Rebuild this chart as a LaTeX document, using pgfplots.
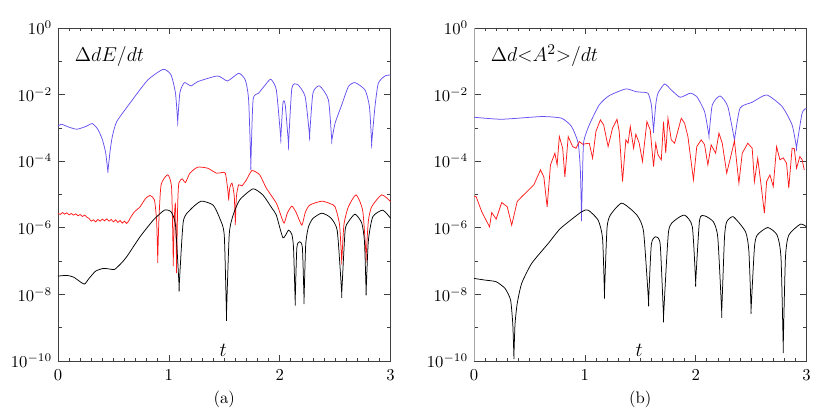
\documentclass[border=0pt]{standalone}
\usepackage{pgfplots}
\pgfplotsset{compat=1.18}
\definecolor{lineblue}{RGB}{100,80,240}
\definecolor{linered}{RGB}{255,25,25}
\pgfplotsset{
  panel/.style={
    scale only axis, width=199.5pt, height=199.8pt,
    xmin=0, xmax=3, ymin=1e-10, ymax=1,
    xtick={0,1,2,3}, minor x tick num=9,
    ytick={1e-10,1e-8,1e-6,1e-4,1e-2,1},
    minor ytick={1e-9,1e-7,1e-5,1e-3,1e-1},
    tick align=inside,
    major tick length=3.9pt, minor tick length=2.1pt,
    every tick/.style={black!75, line width=0.4pt},
    axis line style={black!75, line width=0.5pt},
    xticklabel style={yshift=-2pt},
  },
  curve/.style={line width=0.45pt},
  % sharp dips are listed twice so the smooth curve keeps its cusp there
  soft/.style={line width=0.45pt, smooth, tension=0.35},
}
\begin{document}
\begin{tikzpicture}
\useasboundingbox (0,0) rectangle (498pt,249pt);

% ---- panel (a)
\begin{axis}[ymode=log, panel, name=left, at={(34.8pt,32.4pt)}, anchor=south west]
\addplot[soft, lineblue] coordinates {
(0.00,1.12e-3) (0.03,1.29e-3) (0.10,1.05e-3) (0.17,9.12e-4) (0.25,1.10e-3)
(0.31,1.35e-3) (0.36,9.00e-4) (0.40,4.50e-4) (0.43,1.80e-4) (0.45,4.90e-5) (0.45,4.90e-5)
(0.47,2.00e-4) (0.49,5.50e-4) (0.53,1.55e-3) (0.66,6.17e-3) (0.81,2.75e-2)
(0.95,5.75e-2) (1.02,3.89e-2) (1.06,1.10e-2) (1.08,1.55e-3) (1.08,1.55e-3) (1.10,1.15e-2)
(1.14,2.29e-2) (1.20,1.82e-2) (1.26,2.45e-2) (1.44,3.63e-2) (1.53,2.57e-2)
(1.63,4.37e-2) (1.69,2.75e-2) (1.72,6.92e-3) (1.74,7.59e-5) (1.74,7.59e-5) (1.76,6.92e-3)
(1.81,1.10e-2) (1.87,1.95e-2) (1.92,2.88e-2) (1.97,1.38e-2) (2.01,4.90e-4) (2.01,4.90e-4)
(2.03,5.75e-3) (2.05,5.01e-3) (2.08,3.24e-4) (2.08,3.24e-4) (2.11,1.55e-2) (2.16,2.04e-2)
(2.23,8.71e-3) (2.27,5.75e-4) (2.27,5.75e-4) (2.30,1.10e-2) (2.36,1.82e-2) (2.44,6.92e-3)
(2.47,4.17e-4) (2.47,4.17e-4) (2.50,1.38e-3) (2.56,4.90e-3) (2.62,1.74e-2) (2.68,2.29e-2)
(2.77,1.38e-2) (2.81,4.37e-3) (2.83,3.47e-4) (2.83,3.47e-4) (2.86,4.37e-3) (2.89,2.19e-2)
(2.95,3.63e-2) (3.00,3.89e-2)
};
\addplot[soft, linered] coordinates {
(0.00,2.75e-6) (0.02,2.51e-6) (0.04,2.88e-6) (0.06,2.57e-6) (0.08,2.82e-6)
(0.10,2.45e-6) (0.12,2.69e-6) (0.14,2.40e-6) (0.16,2.63e-6) (0.18,2.29e-6)
(0.20,2.51e-6) (0.22,2.19e-6) (0.24,2.40e-6) (0.26,2.09e-6) (0.28,1.91e-6)
(0.30,1.58e-6) (0.32,1.74e-6) (0.34,1.51e-6) (0.36,1.78e-6) (0.38,1.58e-6)
(0.40,1.82e-6) (0.42,1.62e-6) (0.44,1.86e-6) (0.46,1.58e-6) (0.48,1.78e-6)
(0.50,1.51e-6) (0.52,1.74e-6) (0.54,1.45e-6) (0.56,1.66e-6) (0.58,1.38e-6)
(0.60,1.58e-6) (0.62,1.35e-6) (0.64,1.66e-6) (0.66,2.19e-6) (0.69,3.02e-6)
(0.74,4.27e-6) (0.79,7.59e-6) (0.83,9.33e-6) (0.87,6.92e-6) (0.89,1.58e-6)
(0.90,1.07e-7) (0.90,1.07e-7) (0.91,1.58e-6) (0.93,1.95e-5) (0.99,3.89e-5) (1.025,1.55e-5)
(1.04,9.55e-8) (1.04,9.55e-8) (1.05,2.00e-6) (1.06,5.01e-6) (1.07,6.03e-8) (1.07,6.03e-8) (1.08,5.01e-6)
(1.09,2.19e-5) (1.12,2.95e-5) (1.15,2.29e-5) (1.19,4.37e-5) (1.26,6.61e-5)
(1.35,6.17e-5) (1.43,4.37e-5) (1.48,4.57e-5) (1.51,4.37e-5) (1.53,1.58e-5)
(1.54,6.92e-6) (1.54,6.92e-6) (1.55,1.58e-5) (1.57,2.19e-5) (1.59,9.00e-6) (1.60,1.38e-6) (1.60,1.38e-6)
(1.61,9.00e-6) (1.63,1.95e-5) (1.66,1.82e-5) (1.70,2.75e-5) (1.75,5.25e-5)
(1.82,3.89e-5) (1.88,1.55e-5) (1.97,5.50e-6) (2.01,2.40e-6) (2.04,1.38e-6)
(2.07,2.82e-6) (2.11,4.47e-6) (2.15,2.82e-6) (2.20,1.20e-6) (2.23,2.82e-6)
(2.27,4.79e-6) (2.38,6.31e-6) (2.46,5.25e-6) (2.50,4.27e-6) (2.54,1.26e-6)
(2.56,9.55e-8) (2.56,9.55e-8) (2.58,1.26e-6) (2.62,4.27e-6) (2.69,9.77e-6) (2.75,3.16e-6)
(2.78,1.35e-7) (2.78,1.35e-7) (2.80,1.58e-6) (2.83,4.27e-6) (2.92,9.77e-6) (3.00,6.17e-6)
};
\addplot[soft, black] coordinates {
(0.00,3.55e-8) (0.08,3.72e-8) (0.14,3.31e-8) (0.20,2.40e-8) (0.24,2.04e-8)
(0.28,3.02e-8) (0.34,5.01e-8) (0.41,6.03e-8) (0.47,5.75e-8) (0.51,5.62e-8)
(0.56,7.94e-8) (0.62,1.35e-7) (0.74,5.37e-7) (0.86,1.70e-6) (0.96,3.39e-6)
(1.02,3.02e-6) (1.06,1.20e-6) (1.093,1.70e-8) (1.093,1.70e-8) (1.13,1.51e-6) (1.19,3.39e-6)
(1.29,6.31e-6) (1.40,4.79e-6) (1.46,1.91e-6) (1.50,6.03e-7) (1.52,2.40e-9) (1.52,2.40e-9)
(1.545,6.31e-7) (1.58,2.40e-6) (1.64,6.92e-6) (1.76,1.48e-5) (1.85,9.55e-6)
(1.93,3.89e-6) (1.97,2.40e-6) (2.03,5.01e-7) (2.08,8.51e-7) (2.11,6.31e-7)
(2.125,2.51e-7) (2.14,6.03e-9) (2.14,6.03e-9) (2.155,2.51e-7) (2.18,3.80e-7) (2.205,2.51e-7)
(2.22,6.76e-9) (2.22,6.76e-9) (2.235,3.16e-7) (2.26,1.07e-6) (2.30,1.91e-6) (2.38,2.75e-6)
(2.46,2.00e-6) (2.52,7.94e-7) (2.56,1.07e-8) (2.56,1.07e-8) (2.59,7.94e-7) (2.62,1.51e-6)
(2.68,2.57e-6) (2.74,1.41e-6) (2.765,3.98e-7) (2.78,1.20e-8) (2.78,1.20e-8) (2.80,3.98e-7)
(2.84,2.14e-6) (2.93,3.39e-6) (3.00,1.95e-6)
};
\node[anchor=base west, font=\fontsize{12.5}{15}\selectfont] at (rel axis cs:0.033,0.898) {$\Delta dE/dt$};
\node[anchor=base, font=\large] at (rel axis cs:0.497,0.015) {$t$};
\end{axis}
\node[yshift=-22.8pt] at (left.south) {(a)};

% ---- panel (b)
\begin{axis}[ymode=log, panel, name=right, at={(284.4pt,32.4pt)}, anchor=south west]
\draw[black!35, line width=1.1pt] (rel axis cs:0,0) -- (rel axis cs:0,1);
\addplot[soft, lineblue] coordinates {
(0.00,2.09e-3) (0.25,1.82e-3) (0.61,2.19e-3) (0.79,1.95e-3) (0.88,1.10e-3)
(0.94,3.47e-4) (0.96,5.01e-5) (0.97,2.00e-6) (0.97,2.00e-6) (0.98,5.01e-5) (0.99,3.89e-4)
(1.04,1.23e-3) (1.13,4.90e-3) (1.22,9.33e-3) (1.37,1.48e-2) (1.46,1.23e-2)
(1.52,1.17e-2) (1.57,1.10e-2) (1.60,5.01e-3) (1.62,8.13e-4) (1.62,8.13e-4) (1.64,5.01e-3)
(1.66,1.10e-2) (1.72,2.09e-2) (1.78,1.38e-2) (1.86,8.32e-3) (1.95,1.10e-2)
(2.01,8.71e-3) (2.08,3.09e-3) (2.12,5.89e-4) (2.12,5.89e-4) (2.15,4.90e-3) (2.22,9.12e-3)
(2.29,4.37e-3) (2.35,4.37e-4) (2.35,4.37e-4) (2.40,3.89e-3) (2.51,5.89e-3) (2.64,9.77e-3)
(2.78,4.37e-3) (2.87,1.23e-3) (2.91,2.57e-4) (2.91,2.57e-4) (2.96,2.75e-3) (3.00,3.89e-3)
};
\addplot[curve, linered] coordinates {
(0.00,8.91e-6) (0.02,8.51e-6) (0.07,3.02e-6) (0.14,1.07e-6) (0.16,2.88e-6)
(0.20,1.82e-6) (0.25,5.75e-6) (0.30,4.27e-6) (0.34,1.20e-6) (0.39,6.17e-6)
(0.43,8.51e-6) (0.54,1.95e-5) (0.60,5.50e-5) (0.63,3.39e-5) (0.66,4.27e-6)
(0.69,7.76e-5) (0.73,1.74e-4) (0.75,7.76e-5) (0.77,5.50e-4) (0.80,2.45e-4)
(0.82,3.39e-5) (0.85,5.50e-4) (0.89,2.75e-4) (0.92,2.45e-4) (0.95,3.89e-4)
(0.98,3.24e-4) (1.04,3.47e-4) (1.07,1.23e-4) (1.10,7.76e-4) (1.14,1.74e-3)
(1.17,1.23e-3) (1.21,2.75e-4) (1.25,9.77e-4) (1.29,1.82e-3) (1.31,7.94e-4)
(1.34,2.45e-5) (1.37,4.37e-4) (1.39,3.47e-4) (1.41,1.10e-3) (1.44,2.45e-4)
(1.46,6.46e-4) (1.49,3.55e-4) (1.52,9.77e-5) (1.56,1.55e-3) (1.59,8.71e-4)
(1.62,6.92e-5) (1.64,3.47e-4) (1.66,1.55e-4) (1.69,1.10e-4) (1.71,1.55e-3)
(1.73,1.74e-4) (1.75,1.95e-3) (1.78,4.37e-4) (1.81,3.47e-4) (1.87,1.95e-3)
(1.90,1.38e-3) (1.93,5.50e-4) (1.98,2.75e-5) (2.01,2.75e-4) (2.05,4.37e-4)
(2.08,3.16e-4) (2.11,7.76e-5) (2.14,3.09e-4) (2.18,1.74e-4) (2.21,6.92e-4)
(2.24,3.47e-4) (2.28,4.37e-5) (2.32,1.55e-4) (2.35,4.07e-4) (2.39,2.19e-5)
(2.42,1.74e-4) (2.47,3.47e-4) (2.51,2.45e-4) (2.53,2.45e-5) (2.56,1.23e-4)
(2.59,1.95e-5) (2.62,2.75e-6) (2.64,2.45e-5) (2.67,3.89e-5) (2.70,1.74e-5)
(2.73,2.75e-4) (2.76,1.10e-4) (2.79,1.26e-4) (2.82,8.71e-5) (2.84,1.55e-5)
(2.87,2.45e-4) (2.89,2.40e-4) (2.91,6.17e-5) (2.94,1.38e-4) (2.96,1.12e-4)
(2.98,5.50e-5)
};
\addplot[soft, black] coordinates {
(0.00,3.02e-8) (0.10,2.69e-8) (0.20,2.40e-8) (0.28,1.51e-8) (0.33,6.76e-9)
(0.35,1.26e-9) (0.36,1.35e-10) (0.36,1.35e-10) (0.37,1.26e-9) (0.39,5.37e-9) (0.43,2.14e-8)
(0.52,8.51e-8) (0.67,3.39e-7) (0.78,9.55e-7) (0.97,3.02e-6) (1.03,3.39e-6)
(1.12,1.70e-6) (1.16,4.79e-7) (1.177,1.02e-8) (1.177,1.02e-8) (1.20,9.55e-7) (1.23,2.40e-6)
(1.334,5.50e-6) (1.47,2.40e-6) (1.53,7.59e-7) (1.575,6.03e-9) (1.575,6.03e-9) (1.60,3.16e-7)
(1.64,5.37e-7) (1.68,3.16e-7) (1.71,2.14e-9) (1.71,2.14e-9) (1.755,7.59e-7) (1.815,1.70e-6)
(1.90,2.40e-6) (1.97,1.07e-6) (2.00,2.29e-8) (2.00,2.29e-8) (2.035,1.70e-6) (2.08,2.29e-6)
(2.16,1.51e-6) (2.20,5.01e-7) (2.235,2.88e-9) (2.235,2.88e-9) (2.26,5.01e-7) (2.28,1.51e-6)
(2.34,2.14e-6) (2.45,7.59e-7) (2.48,2.00e-7) (2.50,3.55e-9) (2.50,3.55e-9) (2.53,2.51e-7)
(2.555,6.03e-7) (2.65,1.02e-6) (2.735,6.03e-7) (2.77,1.26e-7) (2.79,2.69e-10) (2.79,2.69e-10)
(2.81,1.26e-7) (2.84,6.03e-7) (2.945,1.29e-6) (3.00,1.07e-6)
};
\node[anchor=base west, font=\fontsize{12.5}{15}\selectfont] at (rel axis cs:0.033,0.898) {$\Delta d{<}A^{2}{>}/dt$};
\node[anchor=base, font=\large] at (rel axis cs:0.497,0.015) {$t$};
\end{axis}
\node[yshift=-22.8pt] at (right.south) {(b)};
\end{tikzpicture}
\end{document}
